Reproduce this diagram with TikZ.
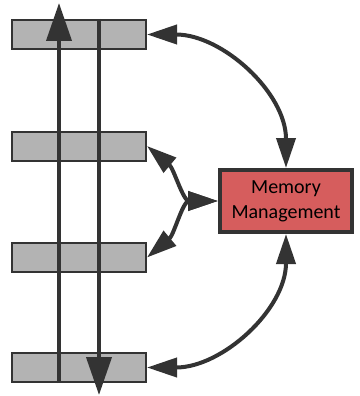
\documentclass[tikz,border=0pt]{standalone}
\usepackage{fontspec}
\setmainfont{Carlito}
\usetikzlibrary{arrows.meta}
\definecolor{ink}{HTML}{333333}
\definecolor{slotgray}{HTML}{B3B3B3}
\definecolor{mgrred}{HTML}{D65D5D}
\begin{document}
\begin{tikzpicture}[x=1pt,y=-1pt,
    slot/.style={draw=ink,fill=slotgray,line width=2pt,minimum width=134pt,minimum height=29pt,inner sep=0pt},
    mgr/.style={draw=ink,fill=mgrred,line width=4pt,minimum width=132pt,minimum height=62pt,align=center,font=\fontsize{20}{25}\selectfont},
    flow/.style={draw=ink,line width=4pt,-{Triangle[length=38pt,width=25pt]}},
    link/.style={draw=ink,line width=4pt,{Triangle[length=30pt,width=19pt]}-{Triangle[length=30pt,width=19pt]}}]
  \useasboundingbox (0,0) rectangle (359,396);
  % the four slots on the left
  \node[slot] (slot1) at (79,34.5) {};
  \node[slot] (slot2) at (79,146) {};
  \node[slot] (slot3) at (79,257.5) {};
  \node[slot] (slot4) at (79,367.5) {};
  \node[mgr] (mm) at (286,201) {Memory\\Management};
  % up and down through the slots
  \coordinate (uptip) at (59,3);
  \coordinate (downtip) at (99,395);
  \draw[flow] (slot4.south -| uptip) -- (uptip);
  \draw[flow] (slot1.north -| downtip) -- (downtip);
  % links to the manager
  \draw[link] (slot1.east) to[out=0,in=90] (mm.north);
  \draw[link] (slot4.east) to[out=0,in=-90] (mm.south);
  \draw[link] (slot2.east) to[out=-40,in=180] (mm.west);
  \draw[link] (slot3.east) to[out=40,in=180] (mm.west);
\end{tikzpicture}
\end{document}
